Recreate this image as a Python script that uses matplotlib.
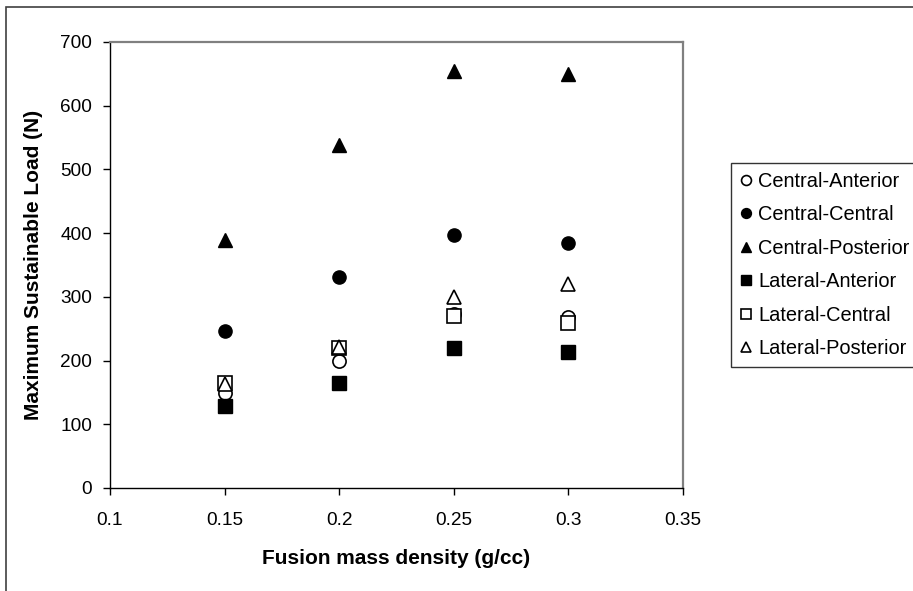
import matplotlib
matplotlib.use('Agg')
import matplotlib.pyplot as plt
from matplotlib.patches import Rectangle

plt.rcParams['font.family'] = ['Liberation Sans', 'DejaVu Sans']

# fusion mass density (g/cc)
density = [0.15, 0.2, 0.25, 0.3]

# maximum sustainable load (N) per location
central_anterior = [149, 200, 273, 268]
central_central = [246, 331, 397, 384]
central_posterior = [390, 538, 655, 650]
lateral_anterior = [128, 165, 219, 214]
lateral_central = [165, 220, 270, 259]
lateral_posterior = [164, 221, 300, 320]

W, H = 913, 591
fig = plt.figure(figsize=(W / 100, H / 100), dpi=100)
ax = fig.add_axes([110 / W, 1 - 488 / H, (683 - 110) / W, (488 - 42) / H])

ms = 9.5
ax.plot(density, central_anterior, 'o', mfc='white', mec='black', mew=1.2, ms=ms, label='Central-Anterior')
ax.plot(density, central_central, 'o', color='black', ms=ms, label='Central-Central')
ax.plot(density, central_posterior, '^', color='black', ms=ms + 1, label='Central-Posterior')
ax.plot(density, lateral_anterior, 's', color='black', ms=ms, label='Lateral-Anterior')
ax.plot(density, lateral_central, 's', mfc='white', mec='black', mew=1.2, ms=ms, label='Lateral-Central')
ax.plot(density, lateral_posterior, '^', mfc='white', mec='black', mew=1.2, ms=ms + 1, label='Lateral-Posterior')

ax.set_xlim(0.1, 0.35)
ax.set_ylim(0, 700)
ax.set_xticks([0.1, 0.15, 0.2, 0.25, 0.3, 0.35])
ax.set_xticklabels(['0.1', '0.15', '0.2', '0.25', '0.3', '0.35'])
ax.set_yticks(range(0, 701, 100))
ax.tick_params(direction='out', length=5, width=1, labelsize=13.7)
ax.tick_params(axis='x', pad=12)
ax.tick_params(axis='y', pad=8)

for s in ['top', 'right']:
    ax.spines[s].set_color('#808080')
    ax.spines[s].set_linewidth(1.6)
for s in ['left', 'bottom']:
    ax.spines[s].set_color('black')
    ax.spines[s].set_linewidth(1)

ax.set_xlabel('Fusion mass density (g/cc)', fontsize=15, fontweight='bold', labelpad=15)
ax.set_ylabel('Maximum Sustainable Load (N)', fontsize=15, fontweight='bold', labelpad=12)

leg = fig.legend(loc='upper left', bbox_to_anchor=(731 / W, 1 - 163 / H),
                 bbox_transform=fig.transFigure, fontsize=14.4, frameon=True,
                 fancybox=False, edgecolor='black', borderaxespad=0,
                 handlelength=0.6, handletextpad=0.3, labelspacing=0.72,
                 markerscale=0.75, borderpad=0.45)
leg.get_frame().set_linewidth(1)

# outer chart border
fig.patches.append(Rectangle((6 / W, -0.1), 1.2, 1 - 7 / H + 0.1, transform=fig.transFigure,
                             fill=False, edgecolor='#404040', linewidth=1.2, clip_on=False))

fig.savefig('out.png', dpi=100)
